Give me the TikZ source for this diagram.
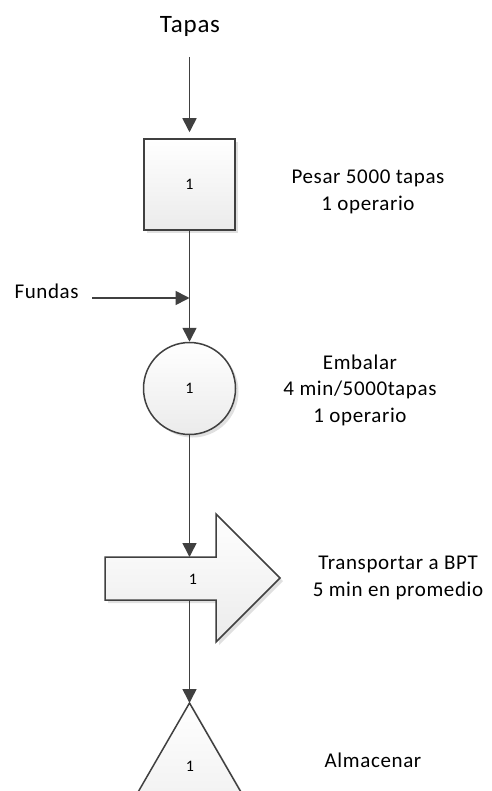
\documentclass[tikz,border=0pt]{standalone}
\usepackage{fontspec}
\setmainfont{Carlito}
\newfontfamily\labelfont[LetterSpace=3]{Carlito}
\usetikzlibrary{arrows.meta,shadows}
\definecolor{linegray}{HTML}{404040}
\definecolor{shapefill}{HTML}{EBEBEB}
\begin{document}
\begin{tikzpicture}[x=1pt,y=-1pt,
  flow/.style={draw=linegray, line width=1.6pt, -{Triangle[length=14pt,width=14pt]}},
  shapebox/.style={draw=linegray, line width=1.5pt, top color=white, bottom color=shapefill,
    drop shadow={shadow xshift=3pt, shadow yshift=-3pt, fill=black!12, opacity=1}},
  num/.style={font=\fontsize{16}{19}\selectfont},
  lbl/.style={font=\labelfont\fontsize{21}{26.5}\selectfont, align=center}]
  % page
  \clip (0,0) rectangle (491,791);
  \fill[white] (0,0) rectangle (491,791);

  % title and operation (square)
  \node[font=\labelfont\fontsize{25}{28}\selectfont, anchor=base] (tapas) at (190,33) {Tapas};
  \coordinate (tstart) at (189.5,57);
  \node[shapebox, minimum size=91pt, inner sep=0pt, num] (pesar) at (189.5,184.5) {1};
  \node[lbl] (pesarlbl) at (368,192) {Pesar 5000 tapas\\1 operario};

  % side input
  \node[lbl, anchor=base west] (fundas) at (11,298) {Fundas};
  \coordinate (fstart) at (92,298);
  \coordinate (fjoin) at (189.5,298);

  % combined operation (circle)
  \node[shapebox, circle, minimum size=92pt, inner sep=0pt, num] (emb) at (189.5,388.5) {1};
  \node[lbl] (emblbl) at (360,390) {Embalar\\4 min/5000tapas\\1 operario};

  % transport (block arrow)
  \draw[shapebox] (105,557) -- (216,557) -- (216,514) -- (280,578) -- (216,642)
    -- (216,600) -- (105,600) -- cycle;
  \coordinate (ttop) at (189.5,557);
  \coordinate (tbot) at (189.5,600);
  \node[num] (trnum) at (193,579) {1};
  \node[lbl] (trlbl) at (398,578) {Transportar a BPT\\5 min en promedio};

  % storage (triangle)
  \draw[shapebox] (189.5,703) -- (274.4,850) -- (104.6,850) -- cycle;
  \coordinate (apex) at (189.5,703);
  \node[num] (stnum) at (190,766) {1};
  \node[lbl, anchor=base] (stlbl) at (373,767) {Almacenar};

  % connectors
  \draw[flow, shorten >=6pt] (tstart) -- (pesar.north);
  \draw[flow] (fstart) -- (fjoin);
  \draw[flow] (pesar.south) -- (emb.north);
  \draw[flow] (emb.south) -- (ttop);
  \draw[flow] (tbot) -- (apex);
\end{tikzpicture}
\end{document}
